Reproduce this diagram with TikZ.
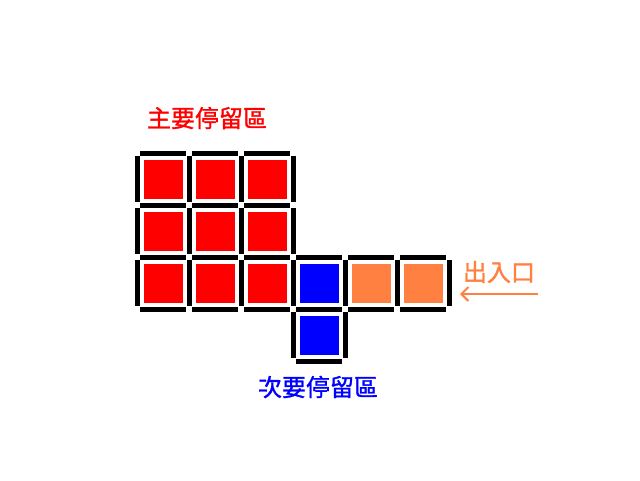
\documentclass[tikz,border=0pt]{standalone}
\usepackage{fontspec}
\newfontfamily\cjk[FakeBold=1.2]{Noto Sans CJK TC}
\usetikzlibrary{arrows.meta}
\definecolor{cred}{RGB}{255,0,0}
\definecolor{cblue}{RGB}{0,0,255}
\definecolor{corange}{RGB}{255,128,64}
\tikzset{
  cellbox/.style={minimum size=39pt, inner sep=0pt, draw=none},
  redcell/.style={cellbox, fill=cred},
  bluecell/.style={cellbox, fill=cblue},
  orangecell/.style={cellbox, fill=corange},
  frameline/.style={line width=5pt, black},
  lbl/.style={font=\cjk\fontsize{24}{24}\selectfont, inner sep=0pt},
}
\begin{document}
\begin{tikzpicture}[x=1pt,y=-1pt]
\useasboundingbox[fill=white] (0,0) rectangle (640,480);
% cells
\node[redcell] (r11) at (163,179) {};
\node[redcell] (r12) at (215,179) {};
\node[redcell] (r13) at (267,179) {};
\node[redcell] (r21) at (163,231) {};
\node[redcell] (r22) at (215,231) {};
\node[redcell] (r23) at (267,231) {};
\node[redcell] (r31) at (163,283) {};
\node[redcell] (r32) at (215,283) {};
\node[redcell] (r33) at (267,283) {};
\node[bluecell] (b1) at (319,283) {};
\node[bluecell] (b2) at (319,335) {};
\node[orangecell] (o1) at (371,283) {};
\node[orangecell] (o2) at (423,283) {};
% frames
\foreach \c/\r in {0/0,1/0,2/0,0/1,1/1,2/1,0/2,1/2,2/2,3/2,4/2,5/2,3/3}{
  \draw[frameline] ({137+52*\c+3},{153+52*\r}) -- ({137+52*\c+49},{153+52*\r});
  \draw[frameline] ({137+52*\c+3},{205+52*\r}) -- ({137+52*\c+49},{205+52*\r});
  \draw[frameline] ({137+52*\c},{153+52*\r+3}) -- ({137+52*\c},{153+52*\r+49});
  \draw[frameline] ({189+52*\c},{153+52*\r+3}) -- ({189+52*\c},{153+52*\r+49});
}
% labels
\node[lbl, text=cred] (main) at (207,118) {主要停留區};
\node[lbl, text=cblue] (second) at (318,387) {次要停留區};
\node[lbl, text=corange] (entry) at (499,272) {出入口};
% arrow
\coordinate (astart) at (538,294);
\coordinate (aend) at (460,294);
\draw[corange, line width=2pt, -{Straight Barb[length=7pt,width=14pt,line width=2pt]}] (astart) -- (aend);
\end{tikzpicture}
\end{document}
